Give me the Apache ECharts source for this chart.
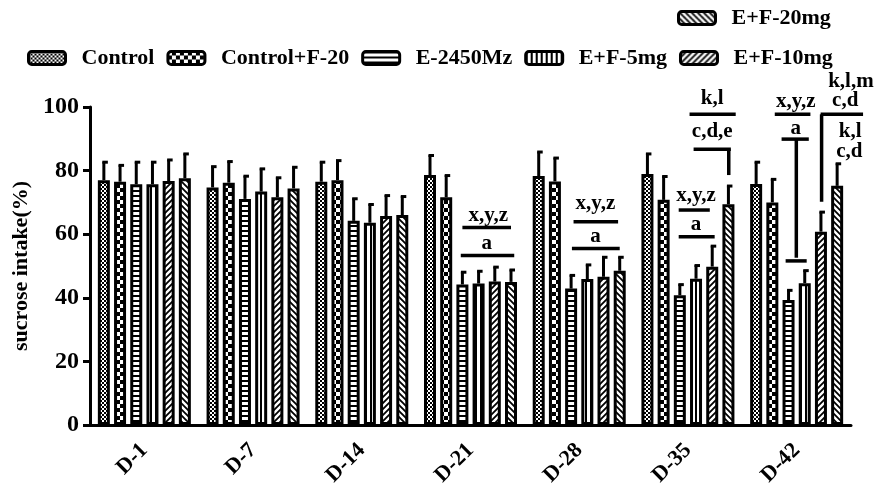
<!DOCTYPE html>
<html>
<head>
<meta charset="utf-8">
<script src="https://cdn.jsdelivr.net/npm/echarts@6/dist/echarts.min.js"></script>
<style>
  html, body { margin: 0; padding: 0; background: #fff; }
  #chart { width: 880px; height: 491px; }
</style>
</head>
<body>
<div id="chart"></div>
<script>
// 分组（天数）
const CATEGORIES = ['D-1', 'D-7', 'D-14', 'D-21', 'D-28', 'D-35', 'D-42']
const SERIES_NAMES = ['Control', 'Control+F-20', 'E-2450Mz', 'E+F-5mg', 'E+F-10mg', 'E+F-20mg']

// 各组均值（%）
const CONTROL = [77.0, 74.7, 76.5, 78.6, 78.3, 78.9, 75.8]
const CONTROL_F20 = [76.5, 76.2, 77.0, 71.6, 76.6, 70.8, 70.0]
const E_2450 = [75.7, 71.1, 64.2, 44.2, 42.9, 40.8, 39.3]
const EF_5 = [75.7, 73.4, 63.6, 44.5, 45.9, 46.0, 44.6]
const EF_10 = [76.7, 71.6, 65.7, 45.1, 46.6, 49.8, 60.8]
const EF_20 = [77.6, 74.4, 66.0, 45.0, 48.5, 69.4, 75.2]

// 各组标准差（只画上半部分）
const CONTROL_SD = [5.8, 6.7, 6.3, 6.3, 7.7, 6.5, 7.0]
const CONTROL_F20_SD = [5.3, 6.8, 6.3, 7.0, 7.5, 7.5, 7.4]
const E_2450_SD = [7.1, 7.3, 7.1, 4.0, 4.3, 3.5, 3.2]
const EF_5_SD = [7.1, 7.3, 5.9, 4.0, 4.6, 4.3, 4.1]
const EF_10_SD = [6.8, 6.3, 6.6, 4.7, 6.3, 6.6, 6.3]
const EF_20_SD = [7.8, 6.8, 6.0, 3.9, 4.4, 5.9, 7.1]

const Y_TICKS = [0, 20, 40, 60, 80, 100]

// 显著性标记线: [分组序号, 起始柱位, 结束柱位, 起始y, 结束y]
const SIG_LINES = [
  [3, 2.0, 5.0, 62.1, 62.1],
  [3, 1.9, 5.2, 53.3, 53.3],
  [4, 2.15, 4.9, 63.9, 63.9],
  [4, 2.05, 5.0, 55.5, 55.5],
  [5, 2.6, 5.45, 97.7, 97.7],
  [5, 2.85, 5.15, 86.7, 86.7],
  [5, 5.02, 5.02, 86.7, 78.6],
  [5, 1.93, 3.85, 67.6, 67.6],
  [5, 1.93, 4.15, 59.2, 59.2],
  [6, 1.15, 3.35, 97.7, 97.7],
  [6, 1.57, 3.25, 89.9, 89.9],
  [6, 2.48, 2.48, 89.9, 52.6],
  [6, 1.82, 3.12, 51.6, 51.6],
  [6, 3.98, 6.6, 97.7, 97.7],
  [6, 4.04, 4.04, 97.7, 70.2]
]

// 显著性标记文字: [分组序号, 柱位, y, 文字]
const SIG_TEXTS = [
  [3, 3.6, 66.0, 'x,y,z'],
  [3, 3.5, 57.2, 'a'],
  [4, 3.5, 69.7, 'x,y,z'],
  [4, 3.5, 59.2, 'a'],
  [5, 4.0, 102.7, 'k,l'],
  [5, 4.0, 92.2, 'c,d,e'],
  [5, 3.0, 72.3, 'x,y,z'],
  [5, 3.0, 63.1, 'a'],
  [6, 2.45, 101.7, 'x,y,z'],
  [6, 2.45, 93.3, 'a'],
  [6, 5.85, 107.9, 'k,l,m'],
  [6, 5.5, 101.9, 'c,d'],
  [6, 5.8, 92.3, 'k,l'],
  [6, 5.75, 86.0, 'c,d']
]

const FONT = '"Liberation Serif", "Times New Roman", serif'
const BAR_WIDTH = 12
const BAR_GAP = 0.35
const BAR_PITCH = BAR_WIDTH * (1 + BAR_GAP)

/**
 * 生成填充图案（黑白纹理）
 */
function makePattern(kind) {
  const c = document.createElement('canvas')
  const ctx = c.getContext('2d')
  if (kind === 'fineChecker') {
    c.width = 4; c.height = 4
    ctx.fillStyle = '#fff'; ctx.fillRect(0, 0, 4, 4)
    ctx.fillStyle = '#000'
    ctx.fillRect(0, 0, 2, 2); ctx.fillRect(2, 2, 2, 2)
  } else if (kind === 'bigChecker') {
    c.width = 8; c.height = 8
    ctx.fillStyle = '#000'; ctx.fillRect(0, 0, 8, 8)
    ctx.fillStyle = '#fff'
    ctx.fillRect(0, 0, 4, 4); ctx.fillRect(4, 4, 4, 4)
  } else if (kind === 'hStripe') {
    c.width = 5; c.height = 5
    ctx.fillStyle = '#fff'; ctx.fillRect(0, 0, 5, 5)
    ctx.fillStyle = '#000'; ctx.fillRect(0, 0, 5, 2)
  } else if (kind === 'vStripe') {
    c.width = 5; c.height = 5
    ctx.fillStyle = '#fff'; ctx.fillRect(0, 0, 5, 5)
    ctx.fillStyle = '#000'; ctx.fillRect(0, 0, 2, 5)
  } else {
    // 斜线: 'slash' 为 /，'backslash' 为 \
    c.width = 6; c.height = 6
    ctx.fillStyle = '#fff'; ctx.fillRect(0, 0, 6, 6)
    ctx.strokeStyle = '#000'; ctx.lineWidth = 1.8
    ctx.beginPath()
    if (kind === 'slash') {
      ctx.moveTo(-1, 7); ctx.lineTo(7, -1)
      ctx.moveTo(-1, 1); ctx.lineTo(1, -1)
      ctx.moveTo(5, 7); ctx.lineTo(7, 5)
    } else {
      ctx.moveTo(-1, -1); ctx.lineTo(7, 7)
      ctx.moveTo(5, -1); ctx.lineTo(7, 1)
      ctx.moveTo(-1, 5); ctx.lineTo(1, 7)
    }
    ctx.stroke()
  }
  return { image: c, repeat: 'repeat' }
}

const PATTERNS = ['fineChecker', 'bigChecker', 'hStripe', 'vStripe', 'slash', 'backslash'].map(makePattern)
const MEANS = [CONTROL, CONTROL_F20, E_2450, EF_5, EF_10, EF_20]
const SDS = [CONTROL_SD, CONTROL_F20_SD, E_2450_SD, EF_5_SD, EF_10_SD, EF_20_SD]

const chart = echarts.init(document.getElementById('chart'), null, { renderer: 'canvas' })

// 柱状图系列
const barSeries = SERIES_NAMES.map((name, i) => ({
  name: name,
  type: 'bar',
  barWidth: BAR_WIDTH,
  barGap: (BAR_GAP * 100) + '%',
  itemStyle: {
    color: PATTERNS[i],
    borderColor: '#000',
    borderWidth: 3
  },
  emphasis: { disabled: true },
  data: MEANS[i]
}))

// 误差线（上半）
const errorSeries = SERIES_NAMES.map((name, i) => ({
  name: 'err-' + name,
  type: 'custom',
  silent: true,
  z: 3,
  data: CATEGORIES.map((c, k) => [k, MEANS[i][k], SDS[i][k]]),
  renderItem: (params, api) => {
    const k = api.value(0)
    const mean = api.value(1)
    const sd = api.value(2)
    const base = api.coord([k, mean])
    const top = api.coord([k, mean + sd])
    const x = base[0] + (i - 2.5) * BAR_PITCH
    const st = { stroke: '#000', lineWidth: 3 }
    return {
      type: 'group',
      children: [
        { type: 'line', shape: { x1: x, y1: base[1], x2: x, y2: top[1] }, style: st },
        { type: 'line', shape: { x1: x - 1.5, y1: top[1] + 0.5, x2: x + 4, y2: top[1] + 0.5 }, style: st }
      ]
    }
  }
}))

// 显著性标记线
const sigLineSeries = {
  name: 'sig-lines',
  type: 'custom',
  silent: true,
  clip: false,
  z: 4,
  encode: { x: 0, y: 3 },
  data: SIG_LINES,
  renderItem: (params, api) => {
    const k = api.value(0)
    const p0 = api.coord([k, api.value(3)])
    const p1 = api.coord([k, api.value(4)])
    const x0 = p0[0] + (api.value(1) - 2.5) * BAR_PITCH
    const x1 = p0[0] + (api.value(2) - 2.5) * BAR_PITCH
    return {
      type: 'line',
      shape: { x1: x0, y1: p0[1], x2: x1, y2: p1[1] },
      style: { stroke: '#000', lineWidth: 3.5 }
    }
  }
}

// 显著性标记文字
const sigTextSeries = {
  name: 'sig-texts',
  type: 'custom',
  silent: true,
  clip: false,
  z: 4,
  encode: { x: 0, y: 2 },
  data: SIG_TEXTS.map(d => [d[0], d[1], d[2]]),
  renderItem: (params, api) => {
    const item = SIG_TEXTS[params.dataIndex]
    const p = api.coord([item[0], item[2]])
    return {
      type: 'text',
      style: {
        text: item[3],
        x: p[0] + (item[1] - 2.5) * BAR_PITCH,
        y: p[1],
        fill: '#000',
        font: 'bold 21px ' + FONT,
        align: 'center',
        verticalAlign: 'middle'
      }
    }
  }
}

const legendText = {
  color: '#000',
  fontSize: 22,
  fontWeight: 'bold',
  fontFamily: FONT,
  padding: [0, 0, 0, 11]
}

const option = {
  backgroundColor: '#fff',
  animation: false,
  legend: [
    {
      data: SERIES_NAMES.slice(0, 5),
      left: 27,
      top: 47,
      padding: 0,
      itemGap: 12,
      itemWidth: 37,
      itemHeight: 13,
      icon: 'roundRect',
      selectedMode: false,
      itemStyle: { borderColor: '#000', borderWidth: 3 },
      textStyle: legendText
    },
    {
      data: SERIES_NAMES.slice(5),
      left: 677,
      top: 7,
      padding: 0,
      itemWidth: 37,
      itemHeight: 13,
      icon: 'roundRect',
      selectedMode: false,
      itemStyle: { borderColor: '#000', borderWidth: 3 },
      textStyle: legendText
    }
  ],
  grid: {
    left: 90,
    right: 29,
    top: 107,
    bottom: 66
  },
  xAxis: {
    type: 'category',
    data: CATEGORIES,
    axisLine: { lineStyle: { color: '#000', width: 3 } },
    axisTick: { alignWithLabel: true, length: 8, lineStyle: { color: '#000', width: 3 } },
    axisLabel: {
      rotate: 45,
      margin: 22,
      color: '#000',
      fontSize: 22,
      fontWeight: 'bold',
      fontFamily: FONT,
      interval: 0
    }
  },
  yAxis: {
    type: 'value',
    min: Y_TICKS[0],
    max: Y_TICKS[Y_TICKS.length - 1],
    interval: Y_TICKS[1] - Y_TICKS[0],
    name: 'sucrose intake(%)',
    nameLocation: 'middle',
    nameGap: 58,
    nameTextStyle: {
      color: '#000',
      fontSize: 22,
      fontWeight: 'bold',
      fontFamily: FONT
    },
    axisLine: { show: true, lineStyle: { color: '#000', width: 3 } },
    axisTick: { show: true, length: 7, lineStyle: { color: '#000', width: 3 } },
    axisLabel: {
      margin: 11,
      color: '#000',
      fontSize: 24,
      fontWeight: 'bold',
      fontFamily: FONT
    },
    splitLine: { show: false }
  },
  series: [...barSeries, ...errorSeries, sigLineSeries, sigTextSeries]
}

chart.setOption(option)
</script>
</body>
</html>
